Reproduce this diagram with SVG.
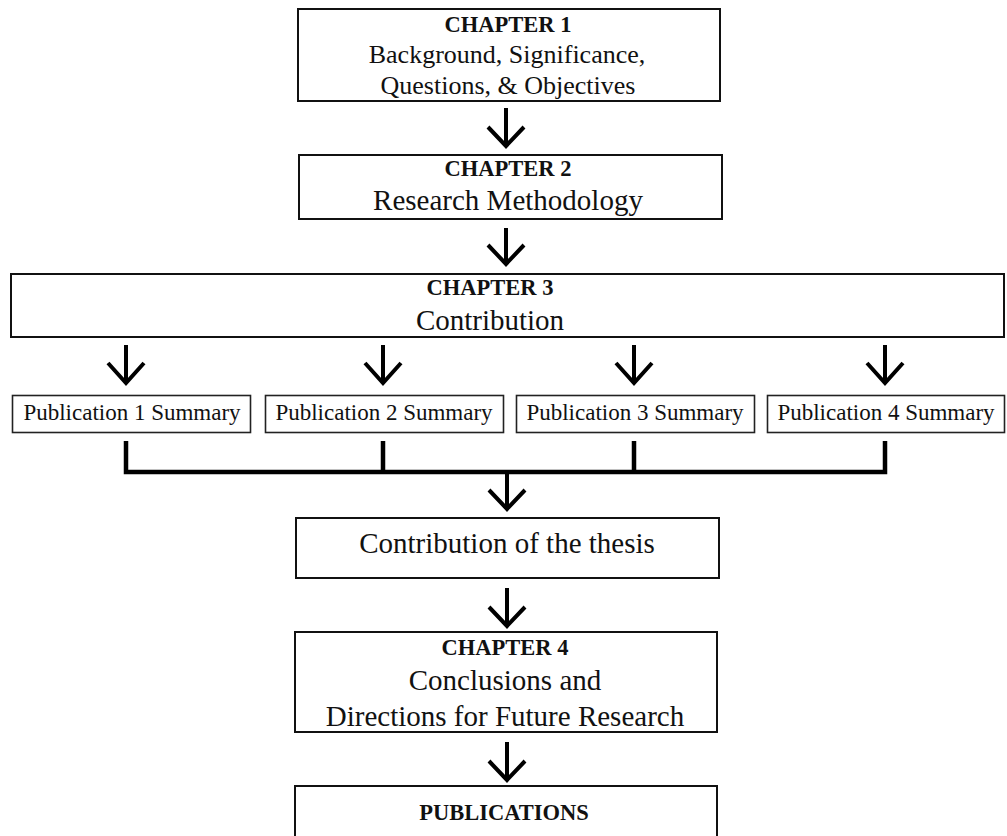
<svg xmlns="http://www.w3.org/2000/svg" width="1007" height="836" viewBox="0 0 1007 836">
<style>
.box{fill:#fff;stroke:#111;stroke-width:2}
.pbox{fill:#fff;stroke:#222;stroke-width:1.6}
.b{font-family:"Liberation Serif",serif;font-weight:bold;font-size:22.5px;fill:#111;text-anchor:middle}
.t{font-family:"Liberation Serif",serif;font-size:29px;fill:#111;text-anchor:middle}
.t1{font-family:"Liberation Serif",serif;font-size:26px;fill:#111;text-anchor:middle}
.p{font-family:"Liberation Serif",serif;font-size:23px;fill:#111;text-anchor:middle}
.arr{fill:none;stroke:#000;stroke-width:4;stroke-linecap:butt;stroke-linejoin:miter}
.br{fill:none;stroke:#000;stroke-width:4.5}
</style>
<rect width="1007" height="836" fill="#fff"/>
<g id="connectors">
<path class="arr" d="M506 108V146M488 127L506 146L524 127"/>
<path class="arr" d="M506 228V264M488 245L506 264L524 245"/>
<path class="arr" d="M126 345V383M108 363L126 383L144 363"/>
<path class="arr" d="M383 345V383M365 363L383 383L401 363"/>
<path class="arr" d="M634 345V383M616 363L634 383L652 363"/>
<path class="arr" d="M885 345V383M867 363L885 383L903 363"/>
<path class="br" d="M126 441V472H885V441M383 441V472M634 441V472"/>
<path class="arr" d="M507 474V509M489 490L507 509L525 490"/>
<path class="arr" d="M507 588V626M489 607L507 626L525 607"/>
<path class="arr" d="M507 742V780M489 761L507 780L525 761"/>
</g>
<g id="ch1">
<rect class="box" x="298" y="9" width="422" height="92"/>
<text class="b" x="508" y="32">CHAPTER 1</text>
<text class="t1" x="507" y="63">Background, Significance,</text>
<text class="t1" x="508" y="94">Questions, &amp; Objectives</text>
</g>
<g id="ch2">
<rect class="box" x="299" y="155" width="423" height="64"/>
<text class="b" x="508" y="176">CHAPTER 2</text>
<text class="t" x="508" y="210">Research Methodology</text>
</g>
<g id="ch3">
<rect class="box" x="11" y="274" width="993" height="63"/>
<text class="b" x="490" y="295">CHAPTER 3</text>
<text class="t" x="490" y="330">Contribution</text>
</g>
<g id="pub1">
<rect class="pbox" x="12.5" y="395.5" width="238" height="37"/>
<text class="p" x="132" y="420">Publication 1 Summary</text>
</g>
<g id="pub2">
<rect class="pbox" x="265.5" y="395.5" width="238" height="37"/>
<text class="p" x="384" y="420">Publication 2 Summary</text>
</g>
<g id="pub3">
<rect class="pbox" x="516.5" y="395.5" width="238" height="37"/>
<text class="p" x="635" y="420">Publication 3 Summary</text>
</g>
<g id="pub4">
<rect class="pbox" x="767.5" y="395.5" width="237" height="37"/>
<text class="p" x="886" y="420">Publication 4 Summary</text>
</g>
<g id="thesis">
<rect class="box" x="296" y="518" width="423" height="60"/>
<text class="t" x="507" y="553">Contribution of the thesis</text>
</g>
<g id="ch4">
<rect class="box" x="295" y="632" width="422" height="100"/>
<text class="b" x="505" y="655">CHAPTER 4</text>
<text class="t" x="505" y="690">Conclusions and</text>
<text class="t" x="505" y="726">Directions for Future Research</text>
</g>
<g id="publications">
<rect class="box" x="295" y="786" width="422" height="60"/>
<text class="b" x="504" y="820">PUBLICATIONS</text>
</g>
</svg>
